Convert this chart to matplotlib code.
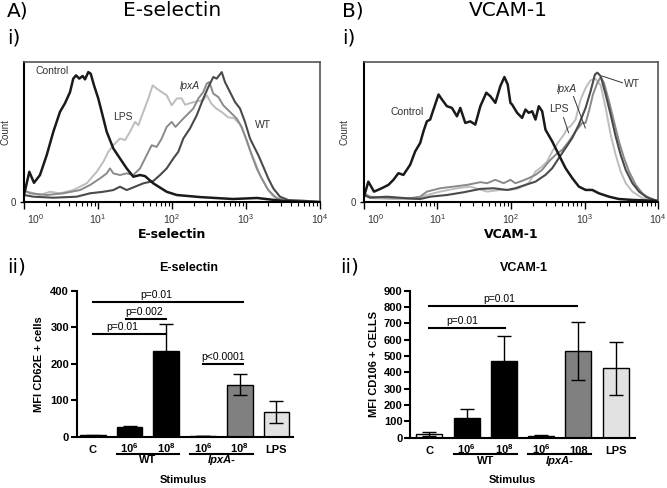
import numpy as np
import matplotlib as mpl
mpl.use('Agg')
import matplotlib.pyplot as plt
from matplotlib.transforms import ScaledTranslation

mpl.rcParams['font.family'] = ['Liberation Sans', 'DejaVu Sans']
mpl.rcParams['axes.linewidth'] = 1.5
mpl.rcParams['mathtext.fontset'] = 'custom'
mpl.rcParams['mathtext.rm'] = 'Liberation Sans'
mpl.rcParams['mathtext.bf'] = 'Liberation Sans:bold'

W, H = 667, 488

'''Histogram data: log10(fluorescence) and relative count (% of highest peak)'''
# E-selectin
esel_ctrl_x = [0.0, 0.072, 0.135, 0.216, 0.307, 0.396, 0.486, 0.554, 0.622, 0.666, 0.703, 0.747, 0.793, 0.824,
               0.869, 0.901, 0.946, 1.004, 1.05, 1.118, 1.207, 1.297, 1.388, 1.477, 1.568, 1.635, 1.747, 1.928,
               2.064, 2.378, 2.824, 3.149, 3.5, 3.73, 4.0]
esel_ctrl_y = [5.4, 23.3, 14.8, 20.8, 36.2, 54.1, 69.5, 76.2, 84.8, 95.2, 97.7, 95.2, 97.2, 94.6,
               100.2, 99.0, 90.0, 79.8, 69.5, 54.1, 41.3, 33.6, 25.9, 19.5, 20.8, 20.0, 14.4, 7.9,
               5.4, 3.8, 2.3, 3.1, 0.8, 0.2, 0.0]
esel_lps_x = [0.0, 0.081, 0.216, 0.351, 0.486, 0.666, 0.847, 0.982, 1.072, 1.139, 1.207, 1.253, 1.297, 1.365,
              1.432, 1.5, 1.545, 1.612, 1.68, 1.739, 1.793, 1.861, 1.928, 1.996, 2.064, 2.131, 2.176, 2.243,
              2.338, 2.419, 2.473, 2.527, 2.595, 2.676, 2.757, 2.838, 2.919, 2.986, 3.054, 3.122, 3.189,
              3.284, 3.365, 3.5, 3.69, 4.0]
esel_lps_y = [7.9, 7.5, 5.4, 7.9, 6.7, 9.2, 14.4, 23.3, 31.0, 38.7, 43.8, 46.4, 49.0, 47.7,
              54.1, 61.8, 59.2, 69.5, 79.8, 90.0, 87.5, 84.8, 82.3, 74.6, 79.8, 80.0, 75.0, 76.2,
              77.7, 78.5, 82.3, 76.2, 72.3, 69.2, 65.4, 64.6, 60.0, 50.8, 40.0, 30.8, 20.8,
              10.8, 4.6, 1.5, 0.8, 0.0]
esel_lpxa_x = [0.0, 0.081, 0.307, 0.531, 0.757, 0.892, 1.027, 1.118, 1.162, 1.207, 1.297, 1.388, 1.477, 1.568,
               1.658, 1.726, 1.793, 1.861, 1.928, 1.996, 2.047, 2.153, 2.22, 2.288, 2.355, 2.423, 2.469,
               2.504, 2.558, 2.626, 2.693, 2.784, 2.874, 2.942, 3.009, 3.077, 3.145, 3.212, 3.301, 3.415,
               3.527, 3.73, 4.0]
esel_lpxa_y = [9.2, 6.7, 5.4, 6.7, 9.2, 13.1, 18.2, 22.1, 25.9, 22.1, 20.8, 22.1, 20.8, 25.9,
               36.2, 43.8, 42.5, 49.0, 57.9, 61.8, 57.9, 64.4, 68.2, 72.1, 79.8, 84.8, 91.3,
               92.5, 83.6, 81.0, 74.6, 69.5, 64.4, 57.9, 47.7, 36.2, 25.9, 18.2, 9.2, 2.8,
               1.0, 0.0, 0.0]
esel_wt_x = [0.0, 0.126, 0.396, 0.712, 0.892, 1.072, 1.207, 1.297, 1.388, 1.5, 1.612, 1.747, 1.838, 1.928,
             2.018, 2.085, 2.153, 2.243, 2.334, 2.423, 2.491, 2.558, 2.604, 2.672, 2.716, 2.784, 2.851,
             2.919, 2.986, 3.054, 3.099, 3.166, 3.234, 3.301, 3.369, 3.459, 3.572, 3.774, 4.0]
esel_wt_y = [5.4, 4.1, 3.3, 4.1, 6.7, 7.9, 9.2, 11.8, 9.2, 11.8, 14.4, 16.2, 20.8, 25.9,
             33.6, 38.7, 49.0, 56.7, 66.9, 79.8, 88.7, 96.4, 95.2, 100.2, 92.5, 84.8, 77.2,
             72.1, 61.8, 49.0, 43.8, 36.2, 27.2, 18.2, 10.5, 4.1, 1.5, 1.0, 0.0]

# VCAM-1
vcam_ctrl_x = [0.0, 0.059, 0.136, 0.241, 0.332, 0.4, 0.468, 0.536, 0.628, 0.696, 0.764, 0.809, 0.855, 0.9,
               0.945, 1.014, 1.06, 1.128, 1.196, 1.265, 1.31, 1.378, 1.446, 1.514, 1.583, 1.664, 1.719,
               1.787, 1.855, 1.91, 1.955, 1.992, 2.015, 2.083, 2.151, 2.197, 2.241, 2.288, 2.333, 2.378,
               2.424, 2.469, 2.561, 2.651, 2.742, 2.834, 2.923, 3.015, 3.106, 3.196, 3.333, 3.469, 3.652,
               3.925, 4.0]
vcam_ctrl_y = [4.1, 15.7, 8.0, 10.6, 13.2, 17.1, 22.2, 20.9, 28.7, 39.0, 45.5, 54.5, 62.2, 63.6,
               71.3, 82.9, 79.1, 73.9, 72.6, 66.1, 72.6, 61.0, 62.2, 59.7, 73.9, 84.3, 81.6,
               76.5, 89.4, 96.4, 90.7, 76.5, 75.2, 68.8, 64.9, 71.3, 68.8, 70.0, 63.6, 73.9,
               70.0, 55.8, 46.7, 36.4, 26.1, 18.4, 11.9, 9.3, 9.3, 6.7, 4.1, 2.3, 1.6,
               1.0, 0.5]
vcam_wt_x = [0.0, 0.082, 0.31, 0.583, 0.764, 0.9, 1.128, 1.355, 1.583, 1.764, 1.947, 2.06, 2.197, 2.333,
             2.469, 2.561, 2.651, 2.742, 2.834, 2.923, 3.015, 3.083, 3.142, 3.175, 3.22, 3.288, 3.356,
             3.424, 3.492, 3.561, 3.652, 3.742, 3.834, 3.947, 4.0]
vcam_wt_y = [5.4, 3.3, 4.1, 2.9, 2.3, 4.1, 5.4, 7.5, 10.1, 10.6, 9.3, 10.6, 13.2, 15.7,
             20.9, 26.1, 33.9, 41.6, 49.4, 59.7, 72.6, 85.5, 98.4, 99.8, 97.1, 82.9, 67.4,
             50.6, 36.4, 24.8, 14.5, 8.0, 4.1, 1.6, 0.8]
vcam_lpxa_x = [0.0, 0.082, 0.31, 0.628, 0.764, 0.855, 1.037, 1.218, 1.401, 1.583, 1.674, 1.787, 1.9, 1.992,
               2.06, 2.151, 2.241, 2.333, 2.424, 2.514, 2.606, 2.697, 2.787, 2.878, 2.969, 3.015, 3.06,
               3.115, 3.175, 3.22, 3.265, 3.333, 3.401, 3.469, 3.538, 3.606, 3.697, 3.788, 3.879, 3.993]
vcam_lpxa_y = [6.7, 4.1, 3.3, 2.9, 4.1, 8.0, 10.6, 11.9, 13.2, 15.3, 14.5, 17.1, 14.5, 17.1,
               14.5, 16.3, 18.4, 20.9, 24.8, 31.2, 36.4, 40.3, 46.7, 54.5, 61.0, 61.0, 70.0,
               82.9, 92.0, 96.4, 92.0, 77.8, 62.2, 46.7, 33.9, 23.5, 13.2, 6.7, 2.9, 1.0]
vcam_lps_x = [0.0, 0.127, 0.4, 0.719, 0.855, 1.037, 1.265, 1.446, 1.674, 1.855, 1.992, 2.105, 2.241, 2.333,
              2.424, 2.492, 2.561, 2.651, 2.719, 2.766, 2.81, 2.878, 2.947, 3.015, 3.083, 3.151, 3.22,
              3.288, 3.356, 3.424, 3.492, 3.561, 3.652, 3.788, 3.97]
vcam_lps_y = [5.4, 2.9, 2.3, 2.3, 5.4, 8.0, 10.6, 11.9, 8.0, 9.3, 9.3, 10.6, 14.5, 23.5,
              27.4, 31.2, 39.0, 46.7, 51.9, 57.1, 58.4, 63.6, 79.0, 88.0, 94.0, 95.0, 90.0,
              72.6, 51.9, 36.4, 23.5, 14.5, 8.0, 2.9, 1.0]

'''Bar chart data'''
bar_labels_esel = ['C', r'$\mathbf{10^6}$', r'$\mathbf{10^8}$', r'$\mathbf{10^6}$', r'$\mathbf{10^8}$', 'LPS']
bar_labels_vcam = ['C', r'$\mathbf{10^6}$', r'$\mathbf{10^8}$', r'$\mathbf{10^6}$', '108', 'LPS']
groups = ['WT', 'lpxA-']
esel_mean = [4.5, 25.5, 234, 2.7, 143, 67]
esel_err = [1.5, 4.5, 76, 0.5, 29, 30]
vcam_mean = [22, 122, 469, 12, 530, 424]
vcam_err = [10, 51, 153, 6, 176, 162]
bar_colors_esel = ['#c4c4c4', 'black', 'black', '#d0d0d0', '#808080', '#e2e2e2']
bar_colors_vcam = ['#f2f2f2', 'black', 'black', '#d0d0d0', '#808080', '#e2e2e2']
# significance bars: (from bar, to bar, height, text, text x)
esel_sig = [(0.0, 4.1, 368, 'p=0.01', 1.74), (0.9, 2.0, 323, 'p=0.002', 1.39),
            (0.0, 2.0, 282, 'p=0.01', 0.81), (3.0, 4.1, 200, 'p<0.0001', 3.55)]
vcam_sig = [(0.0, 3.97, 806, 'p=0.01', 1.87), (0.0, 2.02, 673, 'p=0.01', 0.88)]

fig = plt.figure(figsize=(W / 100, H / 100), dpi=100)


def px_box(x0, y0, x1, y1):
    return [x0 / W, 1 - y1 / H, (x1 - x0) / W, (y1 - y0) / H]


def hist_panel(box, curves, labels, xlabel, count_x):
    ax = fig.add_axes(box)
    for lx, ly, col, lw in curves:
        ax.plot(10 ** np.array(lx), ly, color=col, lw=lw, solid_joinstyle='round')
    ax.set_xscale('log')
    ax.set_xlim(1, 1e4)
    ax.set_ylim(0, 108)
    ax.set_xticks([1, 10, 100, 1000, 10000])
    ax.tick_params(axis='x', which='major', length=5, width=1, labelsize=7.5, labelcolor='#333333', pad=2)
    ax.tick_params(axis='x', which='minor', length=3, width=0.8)
    ax.set_yticks([0])
    ax.set_yticklabels(['0'])
    ax.tick_params(axis='y', length=3, width=1, labelsize=7, labelcolor='#333333', pad=3)
    first = ax.get_xticklabels()[0]
    first.set_horizontalalignment('left')
    first.set_transform(first.get_transform() + ScaledTranslation(3 / 100, 0, fig.dpi_scale_trans))
    for s in ['top', 'right']:
        ax.spines[s].set_linewidth(1.2)
        ax.spines[s].set_color('#555555')
    ax.set_ylabel('Count', fontsize=7, color='#333333')
    ax.yaxis.set_label_coords(count_x, 0.5)
    ax.set_xlabel(xlabel, fontsize=9, fontweight='bold', family='DejaVu Sans', labelpad=2)
    for txt, lx, ly, style, ptr in labels:
        ax.text(10 ** lx, ly, txt, fontsize=7.5, color='#333333', style=style, ha='center', va='center')
        if ptr is not None:
            ax.plot(10 ** np.array([ptr[0], ptr[2]]), [ptr[1], ptr[3]], color='#333333', lw=0.7)
    return ax


ctrl_col, wt_col, lpxa_col, lps_col = '#1a1a1a', '#4a4a4a', '#8a8a8a', '#bdbdbd'

hist_panel(px_box(24, 62, 320, 202),
           [(esel_lps_x, esel_lps_y, lps_col, 1.4),
            (esel_lpxa_x, esel_lpxa_y, lpxa_col, 1.4),
            (esel_wt_x, esel_wt_y, wt_col, 1.5),
            (esel_ctrl_x, esel_ctrl_y, ctrl_col, 1.8)],
           [('Control', 0.378, 100.8, 'normal', None),
            ('LPS', 1.338, 65.4, 'normal', None),
            ('lpxA', 2.243, 89.2, 'italic', None),
            ('WT', 3.23, 59.2, 'normal', None)],
           'E-selectin', -0.045)

hist_panel(px_box(364, 62, 658, 202),
           [(vcam_lps_x, vcam_lps_y, lps_col, 1.4),
            (vcam_lpxa_x, vcam_lpxa_y, lpxa_col, 1.4),
            (vcam_wt_x, vcam_wt_y, wt_col, 1.5),
            (vcam_ctrl_x, vcam_ctrl_y, ctrl_col, 1.8)],
           [('Control', 0.587, 69.8, 'normal', None),
            ('lpxA', 2.76, 87.4, 'italic', (2.85, 81.4, 3.011, 57.1)),
            ('LPS', 2.647, 72.1, 'normal', (2.715, 65.1, 2.783, 53.5)),
            ('WT', 3.652, 90.7, 'normal', (3.516, 92.0, 3.243, 97.1))],
           'VCAM-1', -0.05)


def bar_panel(box, xlim, ymax, means, errs, colors, tick_labels, sig, ylabel,
              ylab_x, line_y, grp_y, stim_x, stim_y):
    ax = fig.add_axes(box)
    pos = np.arange(len(means))
    ax.bar(pos, means, width=0.7, color=colors, edgecolor='black', linewidth=1, zorder=2)
    ax.errorbar(pos, means, yerr=errs, fmt='none', ecolor='black', elinewidth=1,
                capsize=5, capthick=1, zorder=3)
    ax.set_xlim(*xlim)
    ax.set_ylim(0, ymax)
    ax.set_yticks(np.arange(0, ymax + 1, 100))
    ax.set_xticks(pos)
    ax.set_xticklabels(tick_labels)
    for lab in ax.get_xticklabels() + ax.get_yticklabels():
        lab.set_fontweight('bold')
    for lab in ax.get_xticklabels():
        lab.set_verticalalignment('baseline')
    ax.tick_params(axis='x', length=0, labelsize=8, pad=11.5)
    ax.tick_params(axis='y', length=4, width=1.5, labelsize=8, pad=1.5)
    ax.spines['top'].set_visible(False)
    ax.spines['right'].set_visible(False)
    ax.set_ylabel(ylabel, fontsize=8, fontweight='bold')
    ax.yaxis.set_label_coords(ylab_x, 0.5)
    ax.set_xlabel('Stimulus', fontsize=8, fontweight='bold')
    ax.xaxis.set_label_coords(stim_x, stim_y)
    # group underlines and names
    tr = ax.get_xaxis_transform()
    for g, (i, j) in zip(groups, [(1, 2), (3, 4)]):
        ax.plot([pos[i] - 0.35, pos[j] + 0.35], [line_y, line_y], color='black', lw=1.5,
                transform=tr, clip_on=False)
        ax.text((pos[i] + pos[j]) / 2, grp_y, g, transform=tr, ha='center', va='center',
                fontsize=8, fontweight='bold', style='italic' if g != 'WT' else 'normal')
    for x1, x2, y, txt, tx in sig:
        ax.plot([x1, x2], [y, y], color='black', lw=1.5, clip_on=False)
        ax.annotate(txt, xy=(tx, y), xytext=(0, 1.5), textcoords='offset points',
                    ha='center', va='bottom', fontsize=7.5)
    return ax


bar_panel(px_box(76.7, 290.7, 293.3, 436.7), (-0.44, 5.46), 400, esel_mean, esel_err,
          bar_colors_esel, bar_labels_esel, esel_sig, 'MFI CD62E + cells',
          -0.149, -0.12, -0.162, 0.495, -0.26)
bar_panel(px_box(410.3, 290.7, 634.7, 437.7), (-0.51, 5.51), 900, vcam_mean, vcam_err,
          bar_colors_vcam, bar_labels_vcam, vcam_sig, 'MFI CD106 + CELLS',
          -0.139, -0.114, -0.157, 0.453, -0.254)

# panel titles
def ftext(x, y, s, **kw):
    fig.text(x / W, 1 - y / H, s, **kw)

big = dict(fontsize=14.5, family='DejaVu Sans', va='center')
ftext(7, 11, 'A)', ha='left', **big)
ftext(172, 11, 'E-selectin', ha='center', **big)
ftext(7, 38, 'i)', ha='left', **big)
ftext(342, 11, 'B)', ha='left', **big)
ftext(508, 11, 'VCAM-1', ha='center', **big)
ftext(342, 38, 'i)', ha='left', **big)
ftext(7, 267, 'ii)', ha='left', **big)
ftext(340, 267, 'ii)', ha='left', **big)
ftext(188.7, 268, 'E-selectin', ha='center', va='center', fontsize=9, fontweight='bold')
ftext(524, 268, 'VCAM-1', ha='center', va='center', fontsize=9, fontweight='bold')

fig.savefig('out.png', dpi=100)
